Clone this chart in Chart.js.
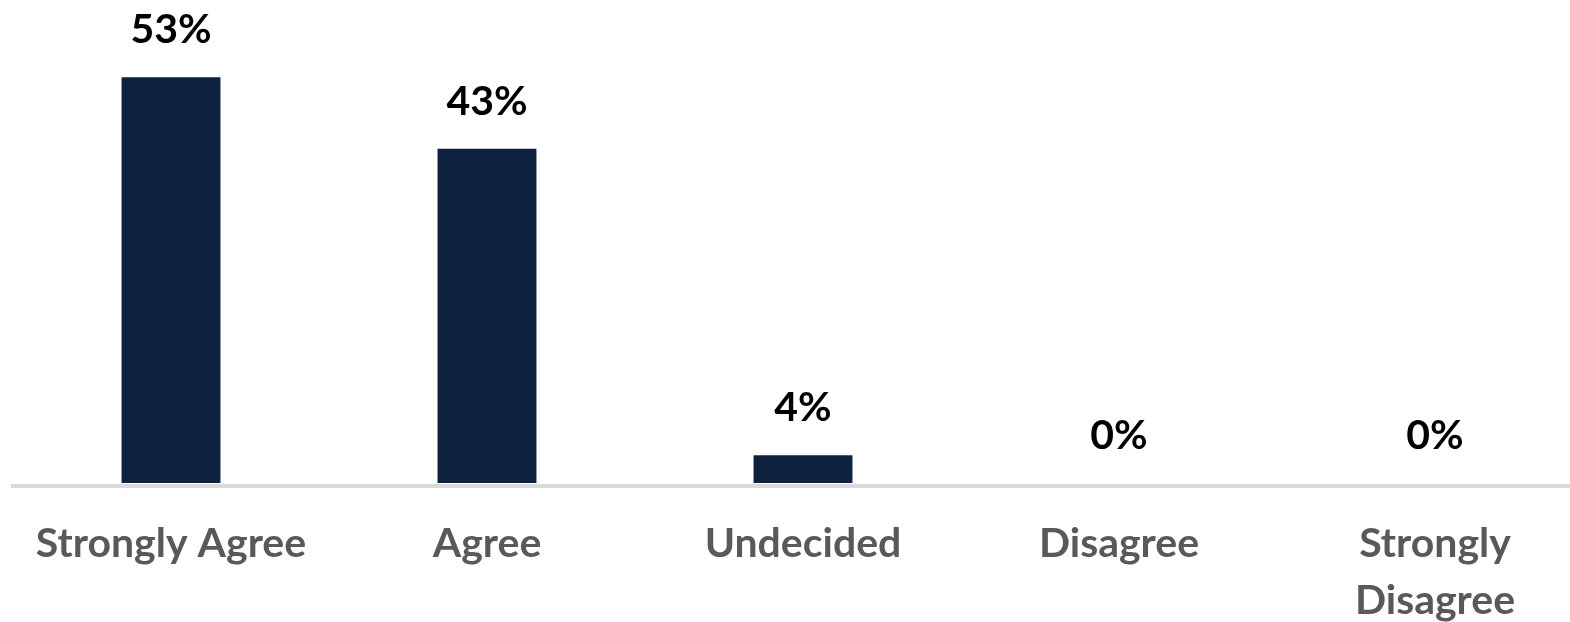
<!DOCTYPE html>
<html>
<head>
<meta charset="utf-8">
<script src="https://cdn.jsdelivr.net/npm/chart.js@4.4.1/dist/chart.umd.min.js"></script>
<style>
  html, body { margin: 0; padding: 0; background: #ffffff; overflow: hidden; }
  #wrap { width: 1593px; height: 622px; position: relative; }
</style>
</head>
<body>
<div id="wrap"><canvas id="c"></canvas></div>
<script>
// Data
const categories = ["Strongly Agree", "Agree", "Undecided", "Disagree", ["Strongly", "Disagree"]];
const percentValues = [52.7, 43.4, 3.6, 0, 0];
const yMin = -0.39;
const yMax = 60;

const barColor = "#0E2240";
const fontFamily = "Lato, 'Open Sans', sans-serif";

const dataLabelPlugin = {
  id: "dataLabels",
  afterDatasetsDraw(chart) {
    const ctx = chart.ctx;
    const meta = chart.getDatasetMeta(0);
    ctx.save();
    ctx.font = "bold 41px " + fontFamily;
    ctx.fillStyle = "#000000";
    ctx.textAlign = "center";
    ctx.textBaseline = "middle";
    meta.data.forEach((bar, i) => {
      const v = chart.data.datasets[0].data[i];
      ctx.fillText(Math.round(v) + "%", bar.x, bar.y - 47);
    });
    ctx.restore();
  }
};

new Chart(document.getElementById("c"), {
  type: "bar",
  data: {
    labels: categories,
    datasets: [{
      data: percentValues,
      backgroundColor: barColor,
      borderWidth: 0,
      categoryPercentage: 1.0,
      barPercentage: 0.313
    }]
  },
  options: {
    responsive: true,
    maintainAspectRatio: false,
    animation: false,
    layout: { padding: { top: 21, left: 13, right: 0, bottom: 0 } },
    plugins: {
      legend: { display: false },
      tooltip: { enabled: false }
    },
    scales: {
      x: {
        grid: { display: true, drawOnChartArea: false, drawTicks: false, color: "rgba(0,0,0,0)" },
        border: { display: true, color: "#D9D9D9", width: 4 },
        ticks: {
          autoSkip: false,
          maxRotation: 0,
          minRotation: 0,
          padding: 29,
          color: "#595959",
          font: { family: fontFamily, size: 41, weight: "bold", lineHeight: 1.39 }
        },
        afterFit(scale) { scale.height = 136; }
      },
      y: {
        display: false,
        min: yMin,
        max: yMax
      }
    }
  },
  plugins: [dataLabelPlugin]
});
</script>
</body>
</html>
